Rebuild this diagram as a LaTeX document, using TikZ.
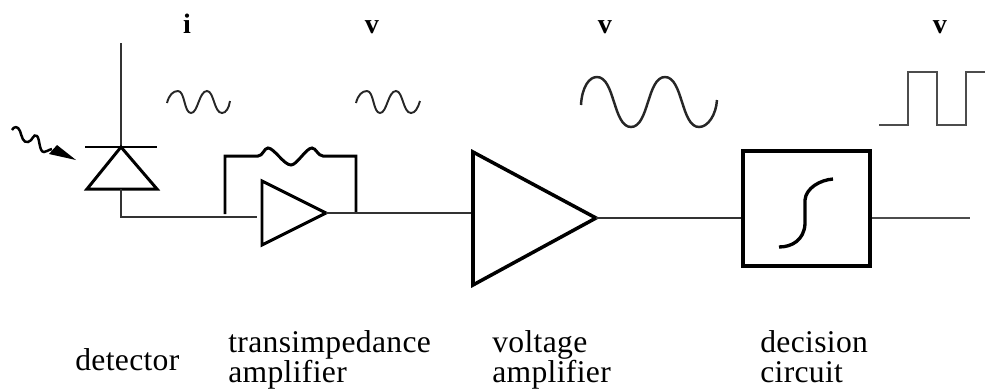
\documentclass[tikz,border=0pt]{standalone}
\usepackage{fontspec}
\setmainfont[LetterSpace=1]{Liberation Serif}
\tikzset{
  wire/.style={line width=1pt,black!80},
  heavy/.style={line width=1.7pt,black},
  sig/.style={line width=1.1pt,black!85},
  amp/.style={line width=1.7pt,black,line join=miter},
  labeltext/.style={font=\fontsize{18}{20}\selectfont,inner sep=0pt,anchor=base west,align=left},
  sigmark/.style={font=\fontsize{16}{16}\selectfont\bfseries,inner sep=0pt,anchor=base}
}
\begin{document}
\begin{tikzpicture}[x=0.02cm,y=-0.02cm]
\useasboundingbox (0,0) rectangle (985,390);
% symbols over the signal path
\node[sigmark] (cur) at (187,33) {i};
\node[sigmark] (vone) at (372,33) {v};
\node[sigmark] (vtwo) at (605,33) {v};
\node[sigmark] (vthree) at (940,33) {v};
% small and large sine waves
\draw[sig] (167,103) .. controls (169,95) and (173,91) .. (178,91)
  .. controls (185,91) and (184,113) .. (191,113)
  .. controls (198,113) and (199,91) .. (207,91)
  .. controls (214,91) and (214,113) .. (222,113)
  .. controls (226,113) and (229,108) .. (230,101);
\draw[sig] (356,103) .. controls (358,95) and (362,91) .. (367,91)
  .. controls (374,91) and (373,113) .. (380,113)
  .. controls (387,113) and (388,91) .. (396,91)
  .. controls (403,91) and (403,113) .. (411,113)
  .. controls (415,113) and (418,108) .. (420,101);
\draw[sig,line width=1.4pt] (581,105) .. controls (582,87) and (589,77) .. (597,77)
  .. controls (615,77) and (613,127) .. (631,127)
  .. controls (649,127) and (647,77) .. (665,77)
  .. controls (683,77) and (681,127) .. (699,127)
  .. controls (708,127) and (716,115) .. (717,100);
% square wave
\draw[sig,black!70,line width=1.3pt] (879,125) -- (908,125) -- (908,72) -- (937,72) -- (937,125) -- (966,125) -- (966,72) -- (985,72);
% detector
\coordinate (top) at (121,43);
\coordinate (apex) at (121,147);
\coordinate (bl) at (87,189);
\coordinate (br) at (157,189);
\coordinate (base) at (121,189);
\coordinate (corner) at (121,217);
\draw[wire] (top) -- (apex);
\draw[line width=1.1pt] (85,147) -- (157,147);
\draw[amp] (apex) -- (br) -- (bl) -- cycle;
\draw[wire] (base) -- (corner) -- (257,217);
% incoming light
\draw[line width=1.4pt] (12,130) .. controls (14,126) and (18,126) .. (20,131)
  .. controls (22,137) and (23,143) .. (28,142)
  .. controls (33,141) and (33,133) .. (37,136)
  .. controls (40,139) and (39,152) .. (44,152)
  .. controls (46,152) and (48,150) .. (52,149);
\fill (76,160) -- (57,145) -- (49,154) -- cycle;
% transimpedance stage
\draw[heavy] (225,214) -- (225,156) -- (258,156)
  .. controls (263,156) and (264,148) .. (268,148)
  .. controls (274,148) and (284,165) .. (291,165)
  .. controls (297,165) and (306,148) .. (312,148)
  .. controls (316,148) and (318,156) .. (323,156)
  -- (356,156) -- (356,213);
\coordinate (ampa) at (262,181);
\coordinate (ampb) at (262,245);
\coordinate (ampc) at (326,213);
\draw[amp] (ampa) -- (ampc) -- (ampb) -- cycle;
% voltage amplifier
\coordinate (bigtop) at (473,152);
\coordinate (bigbot) at (473,285);
\coordinate (bigtip) at (596,218);
\draw[wire] (ampc) -- (473,213);
\draw[amp,line width=2pt] (bigtop) -- (bigtip) -- (bigbot) -- cycle;
% decision circuit
\node[draw,line width=2pt,black,minimum width=127*0.02cm,minimum height=115*0.02cm,inner sep=0pt] (dec) at (806.5,208.5) {};
\draw[wire] (bigtip) -- (dec.west |- bigtip);
\coordinate (out) at (970,218);
\draw[wire,black!70] (dec.east |- out) -- (out);
\draw[line width=1.9pt] (779,247) .. controls (792,247) and (804,240) .. (805,224)
  -- (805,200) .. controls (806,188) and (820,180) .. (833,179);
% captions
\node[labeltext] (det) at (75,370) {detector};
\node[labeltext] (tia) at (228,352) {transimpedance};
\node[labeltext] (tiab) at (228,382) {amplifier};
\node[labeltext] (va) at (492,352) {voltage};
\node[labeltext] (vab) at (492,382) {amplifier};
\node[labeltext] (dc) at (760,352) {decision};
\node[labeltext] (dcb) at (760,382) {circuit};
\end{tikzpicture}
\end{document}
